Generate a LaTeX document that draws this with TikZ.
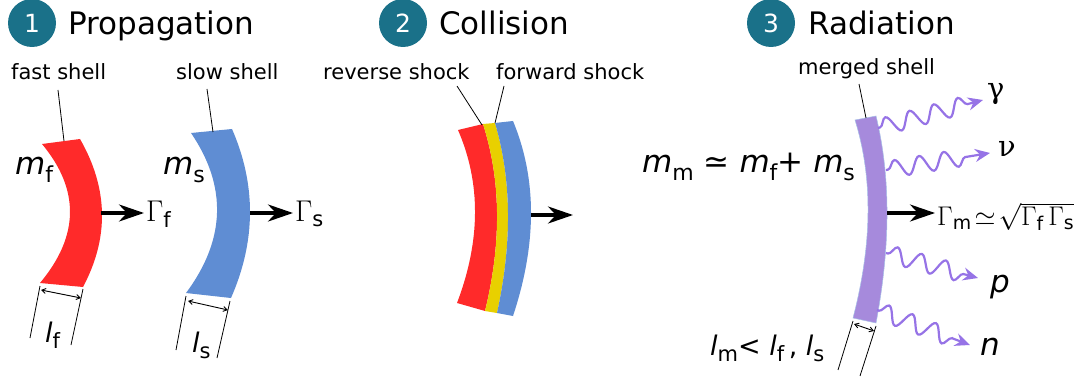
\documentclass[tikz,border=0pt]{standalone}
\usepackage{fix-cm}
\usepackage{amsmath}
\usepackage[no-math]{fontspec}
\setmainfont{DejaVu Sans}
\newfontfamily\grk{DejaVu Serif}
\usetikzlibrary{arrows.meta,decorations.pathmorphing}
\definecolor{tealc}{HTML}{1A7189}
\definecolor{redc}{HTML}{FF2A2A}
\definecolor{bluec}{HTML}{5F8DD3}
\definecolor{yellowc}{HTML}{E8D000}
\definecolor{purplec}{HTML}{A68ADC}
\definecolor{wavec}{HTML}{9673E6}
\newcommand\msub[1]{\raisebox{-8pt}{\fontsize{22}{22}\selectfont #1}}
\newcommand\lsub[1]{\raisebox{-6pt}{\fontsize{21}{21}\selectfont #1}}
\tikzset{
  numcirc/.style={circle,fill=tealc,minimum size=48pt,inner sep=0pt,text=white,font=\fontsize{25}{25}\selectfont},
  title/.style={anchor=base west,inner sep=0pt,font=\fontsize{31}{31}\selectfont},
  lab/.style={anchor=base west,inner sep=0pt,font=\fontsize{21}{21}\selectfont},
  sym/.style={anchor=base west,inner sep=0pt,font=\fontsize{31}{31}\selectfont},
  lsym/.style={anchor=base west,inner sep=0pt,font=\fontsize{27}{27}\selectfont},
  gam/.style={anchor=base west,inner sep=0pt,font=\fontsize{30}{30}\selectfont},
  grksym/.style={anchor=base west,inner sep=0pt,font=\fontsize{29}{29}\grk},
  leader/.style={line width=0.8pt},
  bigarrow/.style={-{Stealth[length=25pt,width=17pt,inset=8pt]},line width=3.5pt,shorten >=2pt},
  dimarrow/.style={{Straight Barb[length=4pt,width=5pt]}-{Straight Barb[length=4pt,width=5pt]},line width=0.9pt},
  ext/.style={line width=0.8pt},
  wave/.style={draw=wavec,line width=2.2pt,decorate,
    decoration={snake,segment length=25pt,amplitude=8.5pt,pre length=2pt,post length=14pt},
    -{Stealth[length=15pt,width=13pt,inset=5pt]}}
}
\begin{document}
\begin{tikzpicture}[x=1pt,y=-1pt]
\useasboundingbox (0,0) rectangle (1086,382);

% ---- titles
\node[numcirc] (n1) at (32,23) {1};
\node[title] (t1) at (68,35) {Propagation};
\node[numcirc] (n2) at (403,23) {2};
\node[title] (t2) at (439,35) {Collision};
\node[numcirc] (n3) at (771,23) {3};
\node[title] (t3) at (808,35) {Radiation};

% ---- 1: fast shell
\fill[redc] (42,144) -- (80,139) .. controls (108.3,188.3) and (109.3,237.7) .. (83,287)
  -- (40,283) .. controls (79.3,236) and (80,189.7) .. cycle;
\node[lab] (fs) at (11,80) {fast shell};
\coordinate (fsA) at (58,90); \coordinate (fsB) at (64,141);
\draw[leader] (fsA) -- (fsB);
\node[sym] (mf) at (15,175) {\itshape m\msub{\upshape f}};
\coordinate (fo) at (101,213);
\node[gam] (gf) at (146,222) {$\Gamma_{\text{f}}$};
\draw[bigarrow] (fo) -- (fo -| gf.west);
\coordinate (fe1a) at (40,286); \coordinate (fe1b) at (30,338);
\coordinate (fe2a) at (83,289); \coordinate (fe2b) at (71,345);
\draw[ext] (fe1a) -- (fe1b);
\draw[ext] (fe2a) -- (fe2b);
\coordinate (fda) at (41,290); \coordinate (fdb) at (81,298);
\draw[dimarrow] (fda) -- (fdb);
\node[lsym] (lf) at (45,342) {\itshape l\lsub{\upshape f}};

% ---- 1: slow shell
\fill[bluec] (191,133) -- (232,129) .. controls (256.3,184.7) and (256,241) .. (231,298)
  -- (186,293) .. controls (225.7,239.7) and (227.3,186.3) .. cycle;
\node[lab] (ss) at (176,80) {slow shell};
\coordinate (ssA) at (207,89); \coordinate (ssB) at (213,132);
\draw[leader] (ssA) -- (ssB);
\node[sym] (ms) at (163,175) {\itshape m\msub{\upshape s}};
\coordinate (so) at (250,213);
\node[gam] (gs) at (295,222) {$\Gamma_{\text{s}}$};
\draw[bigarrow] (so) -- (so -| gs.west);
\coordinate (se1a) at (186,296); \coordinate (se1b) at (176,350);
\coordinate (se2a) at (230,301); \coordinate (se2b) at (217,358);
\draw[ext] (se1a) -- (se1b);
\draw[ext] (se2a) -- (se2b);
\coordinate (sda) at (188,301); \coordinate (sdb) at (228,310);
\draw[dimarrow] (sda) -- (sdb);
\node[lsym] (ls) at (192,352) {\itshape l\lsub{\upshape s}};

% ---- 2: collision
\fill[redc] (458,130) -- (483,124) .. controls (501,180.3) and (501.7,242.7) .. (485,311)
  -- (457,303) .. controls (480.7,240.7) and (481,183) .. cycle;
\fill[yellowc] (483,124) -- (495,123) .. controls (511.7,179.7) and (512.3,243) .. (497,313)
  -- (485,311) .. controls (501.7,242.7) and (501,180.3) .. cycle;
\fill[bluec] (495,123) -- (513,121) .. controls (537,178.7) and (537,243.7) .. (513,316)
  -- (497,313) .. controls (512.3,243) and (511.7,179.7) .. cycle;
\node[lab] (rs) at (323,80) {reverse shock};
\node[lab] (fw) at (496,80) {forward shock};
\coordinate (rsA) at (457,86); \coordinate (rsB) at (482,125);
\coordinate (fwA) at (504,86); \coordinate (fwB) at (495,123);
\draw[leader] (rsA) -- (rsB);
\draw[leader] (fwA) -- (fwB);
\coordinate (co) at (531,215); \coordinate (ct) at (575,215);
\draw[bigarrow] (co) -- (ct);

% ---- 3: radiation
\filldraw[fill=purplec,draw=bluec!55,line width=0.5pt] (855,120) -- (876,116) .. controls (890.7,176.3) and (890.7,245.3) .. (876,323)
  -- (853,318) .. controls (872.3,244) and (873,178) .. cycle;
\node[lab] (ms2) at (798,75) {merged shell};
\coordinate (msA) at (859,84); \coordinate (msB) at (866,118);
\draw[leader] (msA) -- (msB);
\node[sym] (mm) at (642,173) {\itshape m\msub{\upshape m} \upshape ≃ \itshape m\msub{\upshape f}\upshape + \itshape m\msub{\upshape s}};
\coordinate (mo) at (887,213);
\node[gam,font=\fontsize{27}{27}\selectfont] (gm) at (937,225) {$\Gamma_{\text{m}}\!\simeq\!\sqrt{\Gamma_{\text{f}}\,\Gamma_{\text{s}}}$};
\draw[bigarrow] (mo) -- (mo -| gm.west);
\coordinate (me1a) at (853,321); \coordinate (me1b) at (838,370);
\coordinate (me2a) at (876,326); \coordinate (me2b) at (860,376);
\draw[ext] (me1a) -- (me1b);
\draw[ext] (me2a) -- (me2b);
\coordinate (mda) at (854,324); \coordinate (mdb) at (874,331);
\draw[dimarrow] (mda) -- (mdb);
\node[lsym] (lm) at (710,355) {\itshape l\lsub{\upshape m}\upshape< \itshape l\lsub{\upshape f}\upshape\,, \itshape l\lsub{\upshape s}};

% waves
\node[grksym] (gam) at (987,99) {γ};
\node[grksym] (nu) at (998,157) {ν};
\node[sym] (pp) at (990,292) {\itshape p};
\node[sym] (nn) at (980,355) {\itshape n};
\coordinate (w1a) at (878,128); \coordinate (w1b) at (983,100);
\coordinate (w2a) at (886,170); \coordinate (w2b) at (990,153);
\coordinate (w3a) at (886,253); \coordinate (w3b) at (978,278);
\coordinate (w4a) at (877,310); \coordinate (w4b) at (970,345);
\draw[wave] (w1a) -- (w1b);
\draw[wave] (w2a) -- (w2b);
\draw[wave] (w3a) -- (w3b);
\draw[wave] (w4a) -- (w4b);
\end{tikzpicture}
\end{document}
